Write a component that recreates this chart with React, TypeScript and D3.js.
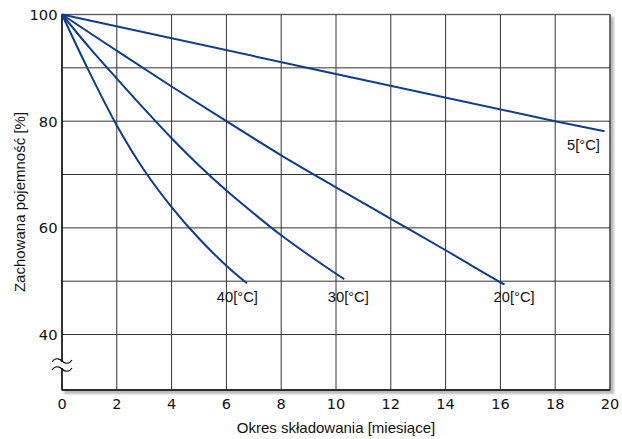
import { useEffect, useRef } from 'react';
import * as d3 from 'd3';

// months of storage, retained capacity [%]
const months5 = [0, 18, 19.8];
const cap5 = [100, 80, 78.1];
const months20 = [0, 2, 4, 6, 8, 10, 12, 14, 16, 16.15];
const cap20 = [100, 93.2, 86.5, 80, 73.6, 67.6, 61.7, 55.8, 49.8, 49.4];
const months30 = [0, 1, 2, 3, 4, 5, 6, 7, 8, 9, 10, 10.3];
const cap30 = [100, 93.8, 88, 82.3, 76.8, 71.7, 67, 62.7, 58.6, 54.9, 51.4, 50.4];
const months40 = [0, 1, 2, 3, 4, 5, 6, 6.75];
const cap40 = [100, 89.2, 79.2, 70.8, 63.9, 58, 52.9, 49.6];
const seriesLabels = ['5[°C]', '20[°C]', '30[°C]', '40[°C]'];
const xTicks = [0, 2, 4, 6, 8, 10, 12, 14, 16, 18, 20];
const yTicks = [40, 60, 80, 100];
const yGrid = [40, 50, 60, 70, 80, 90];

const W = 622;
const H = 439;

export default function App() {
    const svgRef = useRef(null);

    useEffect(() => {
        const svg = d3.select(svgRef.current);
        svg.selectAll('*').remove();

        const x = d3.scaleLinear().domain([0, 20]).range([62, 610]);
        const y = d3.scaleLinear().domain([29.6, 100]).range([390, 14.5]);
        const x0 = x(0), x1 = x(20), y0 = y(29.6), y1 = y(100);

        // shadow of the plot box
        const defs = svg.append('defs');
        defs.append('filter').attr('id', 'blur')
            .append('feGaussianBlur').attr('stdDeviation', 1.2);
        svg.append('rect')
            .attr('x', x0 + 2).attr('y', y1 + 2)
            .attr('width', x1 - x0 + 2).attr('height', y0 - y1 + 2)
            .attr('fill', '#bbb').attr('filter', 'url(#blur)');
        svg.append('rect')
            .attr('x', x0).attr('y', y1)
            .attr('width', x1 - x0).attr('height', y0 - y1)
            .attr('fill', '#fff');

        const grid = svg.append('g').attr('stroke', '#333').attr('stroke-width', 1);
        xTicks.forEach((t) => {
            grid.append('line').attr('x1', x(t)).attr('x2', x(t)).attr('y1', y1).attr('y2', y0);
        });
        yGrid.forEach((t) => {
            grid.append('line').attr('x1', x0).attr('x2', x1).attr('y1', y(t)).attr('y2', y(t));
        });
        svg.append('rect')
            .attr('x', x0).attr('y', y1)
            .attr('width', x1 - x0).attr('height', y0 - y1)
            .attr('fill', 'none').attr('stroke', '#555').attr('stroke-width', 1.3);
        svg.append('line').attr('x1', x0).attr('x2', x0).attr('y1', y1).attr('y2', y0)
            .attr('stroke', '#111').attr('stroke-width', 1.3);
        svg.append('line').attr('x1', x0).attr('x2', x1).attr('y1', y0).attr('y2', y0)
            .attr('stroke', '#111').attr('stroke-width', 1.3);

        // axis break
        svg.append('rect').attr('x', x0 - 6).attr('y', 362).attr('width', 12).attr('height', 6).attr('fill', '#fff');
        [361, 369].forEach((cy) => {
            svg.append('path')
                .attr('d', `M${x0 - 10},${cy + 1} C${x0 - 6},${cy - 5} ${x0 - 1},${cy - 1} ${x0},${cy} S${x0 + 6},${cy + 5} ${x0 + 10},${cy - 1}`)
                .attr('fill', 'none').attr('stroke', '#111').attr('stroke-width', 1.2);
        });

        const line = d3.line().x((d) => x(d[0])).y((d) => y(d[1])).curve(d3.curveCatmullRom);
        const series = [
            [months5, cap5], [months20, cap20], [months30, cap30], [months40, cap40],
        ];
        series.forEach(([ms, cs]) => {
            svg.append('path')
                .datum(ms.map((m, i) => [m, cs[i]]))
                .attr('d', line)
                .attr('fill', 'none')
                .attr('stroke', '#0b3d8e')
                .attr('stroke-width', 2);
        });

        const labelPos = [[19.03, 74.6], [16.5, 46.1], [10.45, 46.1], [6.4, 46.1]];
        seriesLabels.forEach((s, i) => {
            svg.append('text')
                .attr('x', x(labelPos[i][0])).attr('y', y(labelPos[i][1]))
                .attr('text-anchor', 'middle')
                .attr('font-family', '"Liberation Sans", Arial, sans-serif')
                .attr('font-size', 14.7)
                .attr('fill', '#111')
                .text(s);
        });

        const tickFont = '"DejaVu Sans", Verdana, sans-serif';
        xTicks.forEach((t) => {
            svg.append('text').attr('x', x(t)).attr('y', 409)
                .attr('text-anchor', 'middle').attr('font-family', tickFont)
                .attr('font-size', 14.5).attr('fill', '#111').text(t);
        });
        yTicks.forEach((t) => {
            svg.append('text').attr('x', 57.5).attr('y', y(t) + 5.5)
                .attr('text-anchor', 'end').attr('font-family', tickFont)
                .attr('font-size', 14.7).attr('fill', '#111').text(t);
        });

        svg.append('text').attr('x', 336).attr('y', 433)
            .attr('text-anchor', 'middle')
            .attr('font-family', '"Liberation Sans", Arial, sans-serif')
            .attr('font-size', 15).attr('fill', '#111')
            .text('Okres składowania [miesiące]');
        svg.append('text')
            .attr('transform', 'translate(24.5,202) rotate(-90)')
            .attr('text-anchor', 'middle')
            .attr('font-family', '"Liberation Sans", Arial, sans-serif')
            .attr('font-size', 15).attr('fill', '#111')
            .text('Zachowana pojemność [%]');
    }, []);

    return (
        <svg
            ref={svgRef}
            width={W}
            height={H}
            style={{ position: 'absolute', left: 0, top: 0, background: '#fff' }}
        />
    );
}
